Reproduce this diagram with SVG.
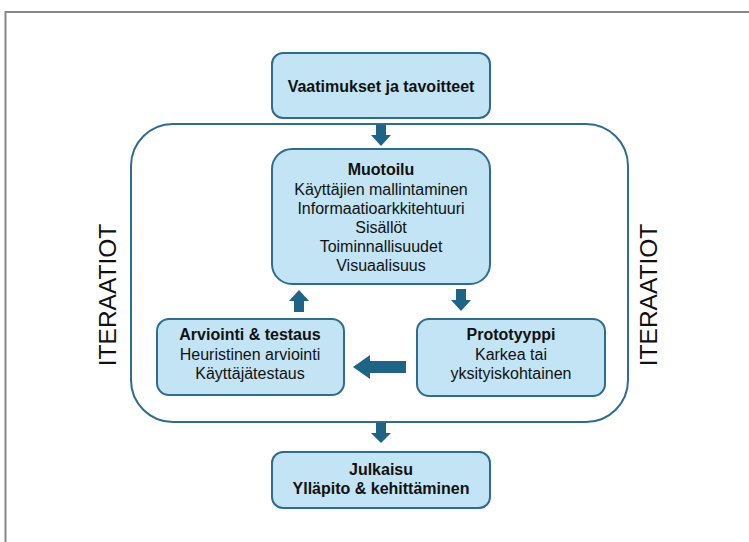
<svg xmlns="http://www.w3.org/2000/svg" width="749" height="542" viewBox="0 0 749 542">
<style>
.box{fill:#C2E4F4;stroke:#2F6C8E;stroke-width:2}
.t{font-family:"Liberation Sans",Arial,sans-serif;font-size:16px;fill:#111;text-anchor:middle}
.b{font-weight:bold}
.arr{fill:#1F6386}
.it{font-family:"Liberation Sans",Arial,sans-serif;font-size:24.5px;fill:#111;text-anchor:middle}
</style>
<rect x="0" y="0" width="749" height="542" fill="#fff"/>
<rect x="5.5" y="12" width="760" height="560" fill="none" stroke="#888" stroke-width="2"/>
<g id="iteration">
<rect x="131" y="124" width="497" height="298" rx="42" fill="none" stroke="#2F6C8E" stroke-width="2"/>
<text class="it" transform="translate(116,295) rotate(-90)">ITERAATIOT</text>
<text class="it" transform="translate(657,295) rotate(-90)">ITERAATIOT</text>
</g>
<g id="vaatimukset">
<rect class="box" x="272" y="53" width="218" height="65" rx="11"/>
<text class="t b" x="381" y="92">Vaatimukset ja tavoitteet</text>
</g>
<g id="muotoilu">
<rect class="box" x="272" y="149" width="218" height="135" rx="20"/>
<text class="t b" x="381" y="175">Muotoilu</text>
<text class="t" x="381" y="195">Käyttäjien mallintaminen</text>
<text class="t" x="381" y="214">Informaatioarkkitehtuuri</text>
<text class="t" x="381" y="233">Sisällöt</text>
<text class="t" x="381" y="252">Toiminnallisuudet</text>
<text class="t" x="381" y="271">Visuaalisuus</text>
</g>
<g id="arviointi">
<rect class="box" x="157" y="319" width="187" height="76" rx="12"/>
<text class="t b" x="250" y="340">Arviointi &amp; testaus</text>
<text class="t" x="250" y="360">Heuristinen arviointi</text>
<text class="t" x="250" y="379">Käyttäjätestaus</text>
</g>
<g id="prototyyppi">
<rect class="box" x="417" y="319" width="188" height="77" rx="12"/>
<text class="t b" x="511" y="340">Prototyyppi</text>
<text class="t" x="511" y="360">Karkea tai</text>
<text class="t" x="511" y="379">yksityiskohtainen</text>
</g>
<g id="julkaisu">
<rect class="box" x="272" y="452" width="218" height="56" rx="11"/>
<text class="t b" x="381" y="475">Julkaisu</text>
<text class="t b" x="381" y="494">Ylläpito &amp; kehittäminen</text>
</g>
<g id="connectors">
<polygon class="arr" points="376,125 386,125 386,135 391,135 381,146 371,135 376,135"/>
<polygon class="arr" points="294,312 304,312 304,301 309,301 299,290 289,301 294,301"/>
<polygon class="arr" points="456,289 466,289 466,300 471,300 461,311 451,300 456,300"/>
<polygon class="arr" points="406,361 406,373 370,373 370,379 353,367 370,355 370,361"/>
<polygon class="arr" points="376,423 386,423 386,433 391,433 381,443 371,433 376,433"/>
</g>
</svg>
